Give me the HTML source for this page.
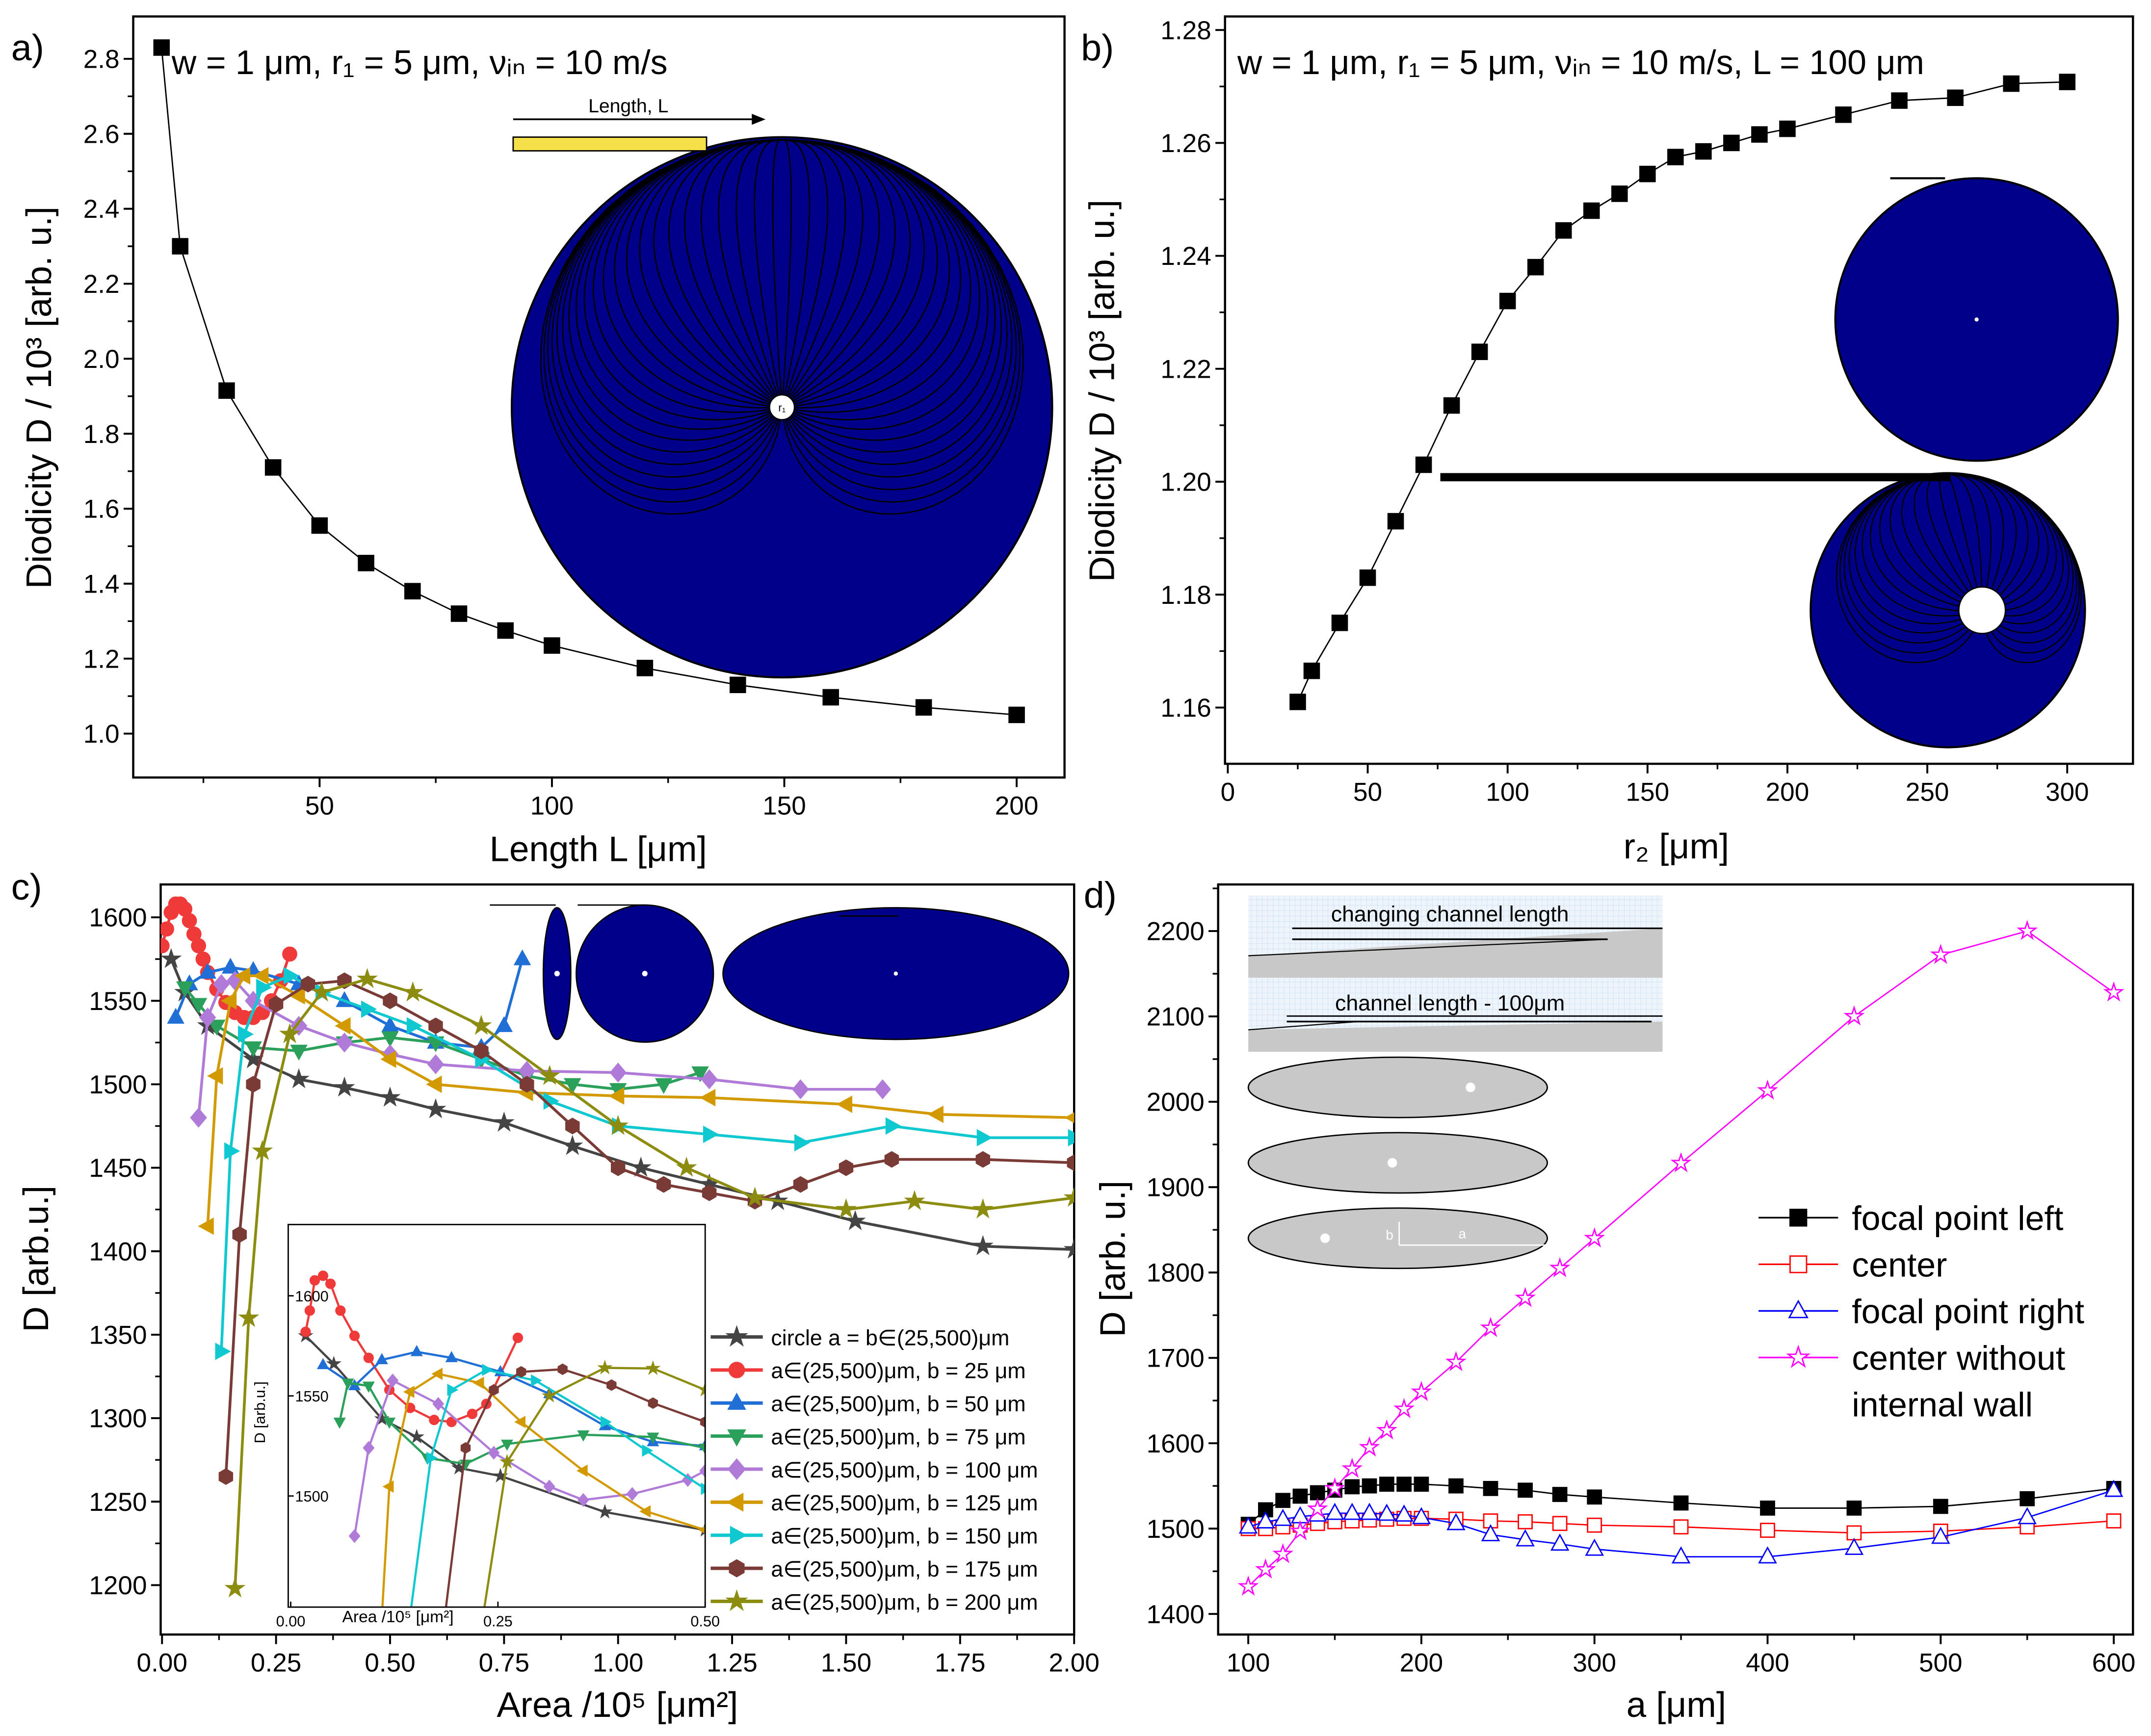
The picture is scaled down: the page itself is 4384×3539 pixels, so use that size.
<!DOCTYPE html>
<html><head><meta charset="utf-8"><style>
html,body{margin:0;padding:0;background:#fff;}
svg{display:block;font-family:"Liberation Sans",sans-serif;}
</style></head>
<body>
<svg id="fig" xmlns="http://www.w3.org/2000/svg" width="4384" height="3539" viewBox="0 0 1568 1266">
<rect width="1568" height="1266" fill="#fff"/>
</svg>
<script>
// ---------- Panel a data ----------
const aLen = [16,20,30,40,50,60,70,80,90,100,120,140,160,180,200];
const aD = [2.83,2.30,1.915,1.71,1.555,1.455,1.38,1.32,1.275,1.235,1.175,1.13,1.097,1.07,1.05];
const aXTicks = [50,100,150,200];
const aYTicks = [1.0,1.2,1.4,1.6,1.8,2.0,2.2,2.4,2.6,2.8];
// ---------- Panel b data ----------
const bR2 = [25,30,40,50,60,70,80,90,100,110,120,130,140,150,160,170,180,190,200,220,240,260,280,300];
const bD = [1.161,1.1665,1.175,1.183,1.193,1.203,1.2135,1.223,1.232,1.238,1.2445,1.248,1.251,1.2545,1.2575,1.2585,1.26,1.2615,1.2625,1.265,1.2675,1.268,1.2705,1.2708];
const bXTicks = [0,50,100,150,200,250,300];
const bYTicks = [1.16,1.18,1.20,1.22,1.24,1.26,1.28];
// ---------- Panel c data ----------
const cXTicks = [0,0.25,0.5,0.75,1.0,1.25,1.5,1.75,2.0];
const cYTicks = [1200,1250,1300,1350,1400,1450,1500,1550,1600];
const cCircleX = [0.02,0.05,0.1,0.2,0.3,0.4,0.5,0.6,0.75,0.9,1.05,1.2,1.35,1.52,1.8,2.0];
const cCircleY = [1575,1555,1535,1515,1503,1498,1492,1485,1477,1463,1450,1440,1430,1418,1403,1401];
const cB25X = [0.0,0.01,0.02,0.03,0.04,0.05,0.06,0.07,0.08,0.09,0.1,0.12,0.14,0.16,0.18,0.2,0.22,0.24,0.26,0.28];
const cB25Y = [1583,1593,1603,1608,1608,1605,1598,1590,1583,1575,1567,1557,1549,1543,1540,1540,1543,1550,1562,1578];
const cB50X = [0.03,0.06,0.1,0.15,0.2,0.3,0.4,0.5,0.6,0.7,0.75,0.79];
const cB50Y = [1540,1560,1567,1570,1568,1560,1550,1535,1525,1522,1535,1575];
const cB75X = [0.05,0.08,0.12,0.2,0.3,0.4,0.5,0.6,0.7,0.8,0.9,1.0,1.1,1.18];
const cB75Y = [1558,1548,1535,1522,1520,1525,1528,1525,1515,1505,1500,1497,1500,1507];
const cB100X = [0.08,0.1,0.13,0.16,0.2,0.3,0.4,0.5,0.6,0.8,1.0,1.2,1.4,1.58];
const cB100Y = [1480,1540,1560,1562,1550,1535,1525,1518,1512,1508,1507,1503,1497,1497];
const cB125X = [0.1,0.12,0.15,0.18,0.22,0.3,0.4,0.5,0.6,0.8,1.0,1.2,1.5,1.7,2.0];
const cB125Y = [1415,1505,1550,1565,1565,1553,1535,1515,1500,1495,1493,1492,1488,1482,1480];
const cB150X = [0.13,0.15,0.18,0.22,0.28,0.35,0.45,0.55,0.7,0.85,1.0,1.2,1.4,1.6,1.8,2.0];
const cB150Y = [1340,1460,1530,1558,1565,1555,1545,1535,1515,1490,1475,1470,1465,1475,1468,1468];
const cB175X = [0.14,0.17,0.2,0.25,0.32,0.4,0.5,0.6,0.7,0.8,0.9,1.0,1.1,1.2,1.3,1.4,1.5,1.6,1.8,2.0];
const cB175Y = [1265,1410,1500,1548,1560,1562,1550,1535,1520,1500,1475,1450,1440,1435,1430,1440,1450,1455,1455,1453];
const cB200X = [0.16,0.19,0.22,0.28,0.35,0.45,0.55,0.7,0.85,1.0,1.15,1.3,1.5,1.65,1.8,2.0];
const cB200Y = [1198,1360,1460,1530,1555,1563,1555,1535,1505,1475,1450,1432,1425,1430,1425,1432];
// inset
const iXTicks = [0,0.25,0.5];
const iYTicks = [1500,1550,1600];
const iCircleX = [0.018,0.052,0.11,0.152,0.203,0.253,0.379,0.5];
const iCircleY = [1580,1566,1538.5,1529.5,1514,1510,1492,1483];
const iB25X = [0.018,0.023,0.029,0.039,0.048,0.06,0.077,0.094,0.119,0.144,0.173,0.194,0.219,0.236,0.274];
const iB25Y = [1582,1592.6,1607.7,1610,1606,1592.6,1580,1569,1553,1544,1538,1537,1541,1546,1579];
const iB50X = [0.039,0.077,0.11,0.152,0.194,0.253,0.312,0.379,0.437,0.5];
const iB50Y = [1565.5,1555,1568,1572,1569,1562,1551,1535,1527,1525];
const iB75X = [0.059,0.069,0.094,0.119,0.165,0.211,0.261,0.353,0.437,0.5];
const iB75Y = [1537,1556.5,1555,1537,1519,1516,1526,1530.6,1529.5,1524];
const iB100X = [0.077,0.094,0.123,0.178,0.245,0.312,0.353,0.412,0.479,0.5];
const iB100Y = [1480,1524,1557.7,1546,1521.6,1504.7,1498,1501,1508,1512.6];
const iB125X = [0.11,0.119,0.144,0.178,0.228,0.278,0.353,0.429,0.5];
const iB125Y = [1440,1504.7,1552,1561,1556.5,1537,1512.6,1492.3,1483];
const iB150X = [0.144,0.169,0.194,0.236,0.295,0.379,0.429,0.5];
const iB150Y = [1440,1519,1553,1563,1557.7,1537,1522.7,1503.6];
const iB175X = [0.186,0.211,0.245,0.278,0.328,0.387,0.437,0.5];
const iB175Y = [1440,1524,1553,1562,1563.3,1555.4,1546.4,1537];
const iB200X = [0.232,0.261,0.312,0.379,0.437,0.5];
const iB200Y = [1440,1517,1550,1564,1563.7,1553];
// ---------- Panel d data ----------
const dA = [100,110,120,130,140,150,160,170,180,190,200,220,240,260,280,300,350,400,450,500,550,600];
const dLeft = [1505,1522,1533,1538,1542,1545,1549,1550,1552,1552,1552,1550,1547,1545,1540,1537,1530,1524,1524,1526,1535,1547];
const dCenter = [1500,1500,1502,1504,1506,1508,1509,1510,1511,1512,1512,1511,1509,1508,1506,1504,1502,1498,1495,1497,1502,1509];
const dRight = [1502,1508,1511,1514,1516,1518,1518,1518,1517,1516,1513,1506,1493,1487,1482,1476,1467,1467,1477,1490,1513,1545];
const dNoWall = [1432,1452,1470,1497,1523,1547,1570,1595,1615,1640,1660,1695,1735,1770,1805,1840,1928,2013,2100,2172,2200,2128];
const dXTicks = [100,200,300,400,500,600];
const dYTicks = [1400,1500,1600,1700,1800,1900,2000,2100,2200];

const NS = "http://www.w3.org/2000/svg";
const svg = document.getElementById('fig');
function mk(tag, attrs, parent){
  const e = document.createElementNS(NS, tag);
  for (const k in attrs) e.setAttribute(k, attrs[k]);
  (parent||svg).appendChild(e);
  return e;
}
function txt(s, x, y, size, anchor, parent, extra){
  const t = mk('text', Object.assign({x:x, y:y, 'font-size':size, 'text-anchor':anchor||'middle', fill:'#000'}, extra||{}), parent);
  t.textContent = s;
  return t;
}
function scale(d0,d1,r0,r1){ return v => r0 + (v-d0)*(r1-r0)/(d1-d0); }

function marker(g, type, x, y, s, color, fill){
  let e;
  const f = fill ? color : '#fff';
  if (type==='square') e = mk('rect',{x:x-s,y:y-s,width:2*s,height:2*s,fill:f,stroke:color,'stroke-width':1},g);
  else if (type==='circle') e = mk('circle',{cx:x,cy:y,r:s,fill:f,stroke:color,'stroke-width':1},g);
  else {
    let pts=[];
    if (type==='up') pts=[[0,-1.2],[1.1,0.8],[-1.1,0.8]];
    else if (type==='down') pts=[[0,1.2],[1.1,-0.8],[-1.1,-0.8]];
    else if (type==='left') pts=[[-1.2,0],[0.8,-1.1],[0.8,1.1]];
    else if (type==='right') pts=[[1.2,0],[-0.8,-1.1],[-0.8,1.1]];
    else if (type==='diamond') pts=[[0,-1.3],[1.1,0],[0,1.3],[-1.1,0]];
    else if (type==='hex') { for(let i=0;i<6;i++){const a=Math.PI/6+i*Math.PI/3;pts.push([Math.cos(a)*1.1,Math.sin(a)*1.1]);} }
    else if (type==='star') { for(let i=0;i<10;i++){const a=-Math.PI/2+i*Math.PI/5;const r=i%2?0.5:1.3;pts.push([Math.cos(a)*r,Math.sin(a)*r]);} }
    e = mk('polygon',{points:pts.map(p=>(x+p[0]*s)+','+(y+p[1]*s)).join(' '),fill:f,stroke:color,'stroke-width':1},g);
  }
  return e;
}

function series(g, xs, ys, sx, sy, color, type, s, fill, lw, name){
  const sg = mk('g',{},g);
  
  
  const line = mk('polyline',{points:xs.map((v,i)=>sx(v)+','+sy(ys[i])).join(' '),fill:'none',stroke:color,'stroke-width':lw,'stroke-linejoin':'round'},sg);
  
  
  xs.forEach((v,i)=>{
    const m = marker(sg, type, sx(v), sy(ys[i]), s, color, fill);
    
    
  });
  return sg;
}

function axes(g, x0,y0,x1,y1, sx, sy, xt, yt, xfmt, yfmt, fs, xminor, yminor){
  const fr = mk('rect',{x:x0,y:y0,width:x1-x0,height:y1-y0,fill:'none',stroke:'#000','stroke-width':1.6},g);
  
  
  const xa = mk('g',{},g);
  
  
  xt.forEach(v=>{
    const X = sx(v);
    mk('line',{x1:X,y1:y1,x2:X,y2:y1+7,stroke:'#000','stroke-width':1.4},xa);
    const t = txt(xfmt(v), X, y1+fs+8, fs, 'middle', xa);
    
    
  });
  (xminor||[]).forEach(v=>{ const X=sx(v); mk('line',{x1:X,y1:y1,x2:X,y2:y1+4,stroke:'#000','stroke-width':1.2},xa); });
  const ya = mk('g',{},g);
  
  
  yt.forEach(v=>{
    const Y = sy(v);
    mk('line',{x1:x0,y1:Y,x2:x0-7,y2:Y,stroke:'#000','stroke-width':1.4},ya);
    const t = txt(yfmt(v), x0-10, Y+fs*0.35, fs, 'end', ya);
    
    
  });
  (yminor||[]).forEach(v=>{ const Y=sy(v); mk('line',{x1:x0,y1:Y,x2:x0-4,y2:Y,stroke:'#000','stroke-width':1.2},ya); });
}
function rangeStep(a,b,s){const r=[];for(let v=a;v<=b+1e-9;v+=s)r.push(+v.toFixed(6));return r;}

// decorative streamlines: spiral from the top inlet into the centre hole, symmetric fan
function streamlines(pic, cx, cy, r, ex, ey, n, lw){
  for(let i=0;i<n;i++){
    const rel = (i+0.5)*2*Math.PI/n;            // 0..2pi measured from top, clockwise
    const delta = rel < Math.PI ? rel : rel - 2*Math.PI;
    const pts = [];
    for(let k=0;k<=40;k++){
      const t = k/40;
      const ang = -Math.PI/2 + delta*Math.pow(t,0.7);
      const rad = r*0.99*(1-Math.pow(t,2.2));
      const bx = cx + (ex-cx)*t, by = cy + (ey-cy)*t;
      pts.push((bx + Math.cos(ang)*rad).toFixed(2)+','+(by + Math.sin(ang)*rad).toFixed(2));
    }
    mk('polyline',{points:pts.join(' '),fill:'none',stroke:'#000','stroke-width':lw},pic);
  }
}

// ================= Panel a =================
{
const g = mk('g',{});


const x0=97,y0=12,x1=776,y1=567;
const sx = scale(9.9,210.3,x0,x1), sy = scale(0.883,2.913,y1,y0);
const pic = mk('g',{},g);


const d0 = mk('defs',{},pic);
const cpa = mk('clipPath',{id:'clipA'},d0);
mk('circle',{cx:570,cy:297,r:197},cpa);
mk('circle',{cx:570,cy:297,r:197,fill:'#00008b',stroke:'#000','stroke-width':1.5},pic);
const sl = mk('g',{'clip-path':'url(#clipA)'},pic);
streamlines(sl,570,297,197,570,297,44,1);
mk('circle',{cx:570,cy:297,r:9,fill:'#fff',stroke:'#000','stroke-width':0.8},pic);
txt('r\u2081',570,300,8,'middle',pic);
mk('rect',{x:374,y:100,width:141,height:10,fill:'#f5e04a',stroke:'#000','stroke-width':1},pic);
mk('line',{x1:374,y1:87,x2:550,y2:87,stroke:'#000','stroke-width':1.3},pic);
mk('polygon',{points:'558,87 548,83 548,91',fill:'#000'},pic);
txt('Length, L',458,82,14,'middle',pic);
axes(g,x0,y0,x1,y1,sx,sy,aXTicks,aYTicks,v=>String(v),v=>v.toFixed(1),19,[25,75,125,175],[1.1,1.3,1.5,1.7,1.9,2.1,2.3,2.5,2.7]);
series(g,aLen,aD,sx,sy,'#000','square',5.5,true,1,'series-diodicity-vs-length');
let t = txt('Length L [\u03bcm]',436,628,26,'middle',g);


t = txt('Diodicity D / 10\u00b3 [arb. u.]',0,0,26,'middle',g,{transform:'translate(37,290) rotate(-90)'});


t = txt('w = 1 \u03bcm, r\u2081 = 5 \u03bcm, \u03bd\u1d62\u2099 = 10 m/s',125,54,25,'start',g);


t = txt('a)',8,44,27,'start',g);


}

// ================= Panel b =================
{
const g = mk('g',{});


const x0=893,y0=12,x1=1555,y1=557;
const sx = scale(-1,323.5,x0,x1), sy = scale(1.15004,1.2824,y1,y0);
const pic = mk('g',{},g);


const d0 = mk('defs',{},pic);
const cpb = mk('clipPath',{id:'clipB'},d0);
mk('circle',{cx:1420,cy:445,r:100},cpb);
mk('circle',{cx:1441,cy:233,r:103,fill:'#00008b',stroke:'#000','stroke-width':1.5},pic);
mk('line',{x1:1378,y1:130,x2:1418,y2:130,stroke:'#000','stroke-width':1.5},pic);
mk('circle',{cx:1441,cy:233,r:1.5,fill:'#fff'},pic);
mk('circle',{cx:1420,cy:445,r:100,fill:'#00008b',stroke:'#000','stroke-width':1.5},pic);
const sl = mk('g',{'clip-path':'url(#clipB)'},pic);
streamlines(sl,1420,445,100,1445,445,28,0.9);
mk('circle',{cx:1445,cy:445,r:17,fill:'#fff',stroke:'#000','stroke-width':1},pic);
mk('rect',{x:1050,y:345,width:372,height:6,fill:'#000'},pic);
axes(g,x0,y0,x1,y1,sx,sy,bXTicks,bYTicks,v=>String(v),v=>v.toFixed(2),19,[25,75,125,175,225,275],[1.17,1.19,1.21,1.23,1.25,1.27]);
series(g,bR2,bD,sx,sy,'#000','square',5.5,true,1,'series-diodicity-vs-r2');
let t = txt('r\u2082 [\u03bcm]',1222,626,26,'middle',g);


t = txt('Diodicity D / 10\u00b3 [arb. u.]',0,0,26,'middle',g,{transform:'translate(812,285) rotate(-90)'});


t = txt('w = 1 \u03bcm, r\u2081 = 5 \u03bcm, \u03bd\u1d62\u2099 = 10 m/s, L = 100 \u03bcm',902,54,25,'start',g);


t = txt('b)',788,44,27,'start',g);


}

// ================= Panel c =================
{
const g = mk('g',{});


const x0=117,y0=645,x1=783,y1=1192;
const sx = scale(-0.003,2.0,x0,x1), sy = scale(1170.4,1619.7,y1,y0);
const defs = mk('defs',{},g);
const cp = mk('clipPath',{id:'clipC'},defs);
mk('rect',{x:x0,y:y0,width:x1-x0,height:y1-y0},cp);
const cp2 = mk('clipPath',{id:'clipI'},defs);
mk('rect',{x:210,y:893,width:304,height:279},cp2);
const pic = mk('g',{},g);


mk('line',{x1:357,y1:660,x2:405,y2:660,stroke:'#000','stroke-width':1},pic);
mk('line',{x1:421,y1:660,x2:470,y2:660,stroke:'#000','stroke-width':1},pic);
mk('ellipse',{cx:406,cy:710,rx:10,ry:48,fill:'#00008b',stroke:'#000','stroke-width':1},pic);
mk('circle',{cx:406,cy:710,r:2,fill:'#fff'},pic);
mk('ellipse',{cx:470,cy:710,rx:50,ry:50,fill:'#00008b',stroke:'#000','stroke-width':1},pic);
mk('circle',{cx:470,cy:710,r:2,fill:'#fff'},pic);
mk('ellipse',{cx:653,cy:710,rx:126,ry:48,fill:'#00008b',stroke:'#000','stroke-width':1},pic);
mk('line',{x1:612,y1:668,x2:655,y2:668,stroke:'#000','stroke-width':1},pic);
mk('circle',{cx:653,cy:710,r:1.5,fill:'#fff'},pic);
axes(g,x0,y0,x1,y1,sx,sy,cXTicks,cYTicks,v=>v.toFixed(2),v=>String(v),19,[0.125,0.375,0.625,0.875,1.125,1.375,1.625,1.875],rangeStep(1225,1575,50));
const cl = mk('g',{'clip-path':'url(#clipC)'},g);
const specs = [
 [cCircleX,cCircleY,'#444444','star','series-circle'],
 [cB25X,cB25Y,'#f03a3a','circle','series-b25'],
 [cB50X,cB50Y,'#1f6fd6','up','series-b50'],
 [cB75X,cB75Y,'#2aa05a','down','series-b75'],
 [cB100X,cB100Y,'#b07ad8','diamond','series-b100'],
 [cB125X,cB125Y,'#d39a00','left','series-b125'],
 [cB150X,cB150Y,'#10c8d0','right','series-b150'],
 [cB175X,cB175Y,'#7a3a35','hex','series-b175'],
 [cB200X,cB200Y,'#8c8c10','star','series-b200']];
specs.forEach(s=>series(cl,s[0],s[1],sx,sy,s[2],s[3],5,true,2,s[4]));
const ig = mk('g',{},g);


mk('rect',{x:210,y:893,width:304,height:279,fill:'#fff'},ig);
const isx = scale(-0.003,0.5,210,514), isy = scale(1444.5,1635.6,1172,893);
const ic = mk('g',{'clip-path':'url(#clipI)'},ig);
const ispecs = [
 [iCircleX,iCircleY,'#444444','star','inset-series-circle'],
 [iB25X,iB25Y,'#f03a3a','circle','inset-series-b25'],
 [iB50X,iB50Y,'#1f6fd6','up','inset-series-b50'],
 [iB75X,iB75Y,'#2aa05a','down','inset-series-b75'],
 [iB100X,iB100Y,'#b07ad8','diamond','inset-series-b100'],
 [iB125X,iB125Y,'#d39a00','left','inset-series-b125'],
 [iB150X,iB150Y,'#10c8d0','right','inset-series-b150'],
 [iB175X,iB175Y,'#7a3a35','hex','inset-series-b175'],
 [iB200X,iB200Y,'#8c8c10','star','inset-series-b200']];
ispecs.forEach(s=>series(ic,s[0],s[1],isx,isy,s[2],s[3],3.3,true,1.6,s[4]));
mk('rect',{x:210,y:893,width:304,height:279,fill:'none',stroke:'#000','stroke-width':1},ig);
iXTicks.forEach(v=>{const X=isx(v); mk('line',{x1:X,y1:1172,x2:X,y2:1168,stroke:'#000'},ig); txt(v.toFixed(2),X,1186,11,'middle',ig);});
iYTicks.forEach(v=>{const Y=isy(v); mk('line',{x1:210,y1:Y,x2:214,y2:Y,stroke:'#000'},ig); txt(String(v),215,Y+4,11,'start',ig);});
txt('Area /10\u2075 [\u03bcm\u00b2]',290,1183,12,'middle',ig);
txt('D [arb.u.]',0,0,11,'middle',ig,{transform:'translate(193,1030) rotate(-90)'});
const lg = mk('g',{},g);


const labs = ['circle a = b\u2208(25,500)\u03bcm','a\u2208(25,500)\u03bcm, b = 25 \u03bcm','a\u2208(25,500)\u03bcm, b = 50 \u03bcm','a\u2208(25,500)\u03bcm, b = 75 \u03bcm','a\u2208(25,500)\u03bcm, b = 100 \u03bcm','a\u2208(25,500)\u03bcm, b = 125 \u03bcm','a\u2208(25,500)\u03bcm, b = 150 \u03bcm','a\u2208(25,500)\u03bcm, b = 175 \u03bcm','a\u2208(25,500)\u03bcm, b = 200 \u03bcm'];
labs.forEach((l,i)=>{
  const y = 975+i*24.1;
  const e = mk('g',{},lg);
  
  
  mk('line',{x1:518,y1:y,x2:556,y2:y,stroke:specs[i][2],'stroke-width':2.5},e);
  marker(e,specs[i][3],537,y,5.5,specs[i][2],true);
  txt(l,562,y+6,16,'start',e);
});
let t = txt('Area /10\u2075 [\u03bcm\u00b2]',450,1252,26,'middle',g);


t = txt('D [arb.u.]',0,0,26,'middle',g,{transform:'translate(35,918) rotate(-90)'});


t = txt('c)',8,656,27,'start',g);


}

// ================= Panel d =================
{
const g = mk('g',{});


const x0=888,y0=645,x1=1555,y1=1192;
const sx = scale(82.6,611.1,x0,x1), sy = scale(1375.9,2254.6,y1,y0);
const pic = mk('g',{},g);


const dd = mk('defs',{},pic);
const pat = mk('pattern',{id:'grid',width:4,height:4,patternUnits:'userSpaceOnUse'},dd);
mk('rect',{width:4,height:4,fill:'#eef4fb'},pat);
mk('path',{d:'M4,0 L0,0 0,4',fill:'none',stroke:'#c9dcef','stroke-width':0.5},pat);
mk('rect',{x:910,y:653,width:302,height:114,fill:'url(#grid)'},pic);
mk('polygon',{points:'910,697 1212,677 1212,713 910,713',fill:'#c8c8c8'},pic);
mk('polygon',{points:'910,751 1212,745 1212,767 910,767',fill:'#c8c8c8'},pic);
mk('line',{x1:942,y1:677,x2:1212,y2:677,stroke:'#000','stroke-width':1.2},pic);
mk('line',{x1:942,y1:685,x2:1172,y2:685,stroke:'#000','stroke-width':1.2},pic);
mk('line',{x1:910,y1:697,x2:1172,y2:685,stroke:'#000','stroke-width':0.8},pic);
mk('line',{x1:938,y1:745,x2:1204,y2:745,stroke:'#000','stroke-width':1.2},pic);
mk('line',{x1:938,y1:741,x2:1212,y2:741,stroke:'#000','stroke-width':1},pic);
mk('line',{x1:910,y1:751,x2:990,y2:745,stroke:'#000','stroke-width':0.8},pic);
txt('changing channel length',1057,672,16,'middle',pic);
txt('channel length - 100\u03bcm',1057,737,16,'middle',pic);
[[793,1072],[848,1015],[903,966]].forEach(p=>{
  mk('ellipse',{cx:1019,cy:p[0],rx:109,ry:22,fill:'#c8c8c8',stroke:'#000','stroke-width':1},pic);
  mk('circle',{cx:p[1],cy:p[0],r:3.5,fill:'#fff'},pic);
});
mk('line',{x1:1020,y1:908,x2:1127,y2:908,stroke:'#fff','stroke-width':1},pic);
mk('line',{x1:1020,y1:908,x2:1020,y2:891,stroke:'#fff','stroke-width':1},pic);
txt('b',1013,904,10,'middle',pic,{fill:'#fff'});
txt('a',1066,903,10,'middle',pic,{fill:'#fff'});
axes(g,x0,y0,x1,y1,sx,sy,dXTicks,dYTicks,v=>String(v),v=>String(v),19,[150,250,350,450,550],rangeStep(1450,2250,100));
series(g,dA,dLeft,sx,sy,'#000','square',5,true,1,'series-focal-point-left');
series(g,dA,dCenter,sx,sy,'#ff0000','square',5,false,1,'series-center');
series(g,dA,dRight,sx,sy,'#0000ff','up',5.5,false,1,'series-focal-point-right');
series(g,dA,dNoWall,sx,sy,'#ff00ff','star',5,false,1,'series-center-without-wall');
const lg = mk('g',{},g);


const lab = [['focal point left','#000','square',true],['center','#ff0000','square',false],['focal point right','#0000ff','up',false],['center without','#ff00ff','star',false]];
lab.forEach((l,i)=>{
  const y = 888+i*34;
  const e = mk('g',{},lg);
  
  
  mk('line',{x1:1282,y1:y,x2:1340,y2:y,stroke:l[1],'stroke-width':1.2},e);
  marker(e,l[2],1311,y,6,l[1],l[3]);
  txt(l[0],1350,y+9,25,'start',e);
});
txt('internal wall',1350,1033,25,'start',lg);
let t = txt('a [\u03bcm]',1222,1252,26,'middle',g);


t = txt('D [arb. u.]',0,0,26,'middle',g,{transform:'translate(820,918) rotate(-90)'});


t = txt('d)',790,662,27,'start',g);


}
</script>
</body></html>
